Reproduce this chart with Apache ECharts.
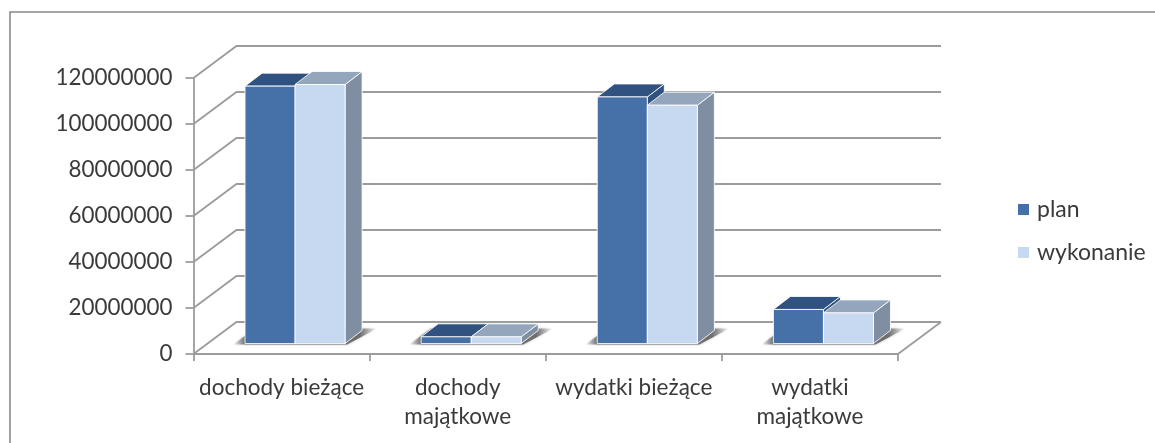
<!DOCTYPE html>
<html>
<head>
<meta charset="utf-8">
<script src="https://cdn.jsdelivr.net/npm/echarts@6/dist/echarts.min.js"></script>
<style>
html,body{margin:0;padding:0;background:#fff;}
#c{width:1155px;height:443px;}
</style>
</head>
<body>
<div id="c"></div>
<script>
const categories = ['dochody bieżące', 'dochody\nmajątkowe', 'wydatki bieżące', 'wydatki\nmajątkowe'];
const plan = [111900000, 2900000, 107200000, 14800000];
const wykonanie = [112600000, 2900000, 103600000, 13300000];
const yTicks = [0, 20000000, 40000000, 60000000, 80000000, 100000000, 120000000];

const font = 'Lato';
const txt = '#3a3a3a';
const lineCol = '#9c9c9c';
// face colours: front, top, side
const planCol = ['#4570a8', '#2f5280', '#2f5280'];
const wykCol = ['#c6d9f1', '#93a6bc', '#7f8ea1'];
// 3d projection in pixels
const wall = [43, -32];
const base = [13.5, -10.5];
const depth = [17, -13];
const barFrac = 50 / 176;

const c = echarts.init(document.getElementById('c'));

function wallItem(params, api){
  const v = api.value(0);
  const cs = params.coordSys;
  const y = api.coord([0, v])[1];
  const l = cs.x, r = cs.x + cs.width;
  const style = {stroke: lineCol, lineWidth: 1.8, fill: null};
  const kids = [{type:'polyline', shape:{points:[[l,y],[l+wall[0],y+wall[1]],[r+wall[0],y+wall[1]]]}, style}];
  if(v===0) kids.push({type:'line', shape:{x1:r,y1:y,x2:r+wall[0],y2:y+wall[1]}, style});
  return {type:'group', children:kids};
}

function shadowItem(params, api){
  const i = api.value(0);
  const p = api.coord([i, 0]);
  const band = api.size([1, 0])[0];
  const w = band * barFrac;
  const yb = p[1] + base[1], h = 15;
  const xl = p[0] - w + base[0] - 12, xr = p[0] + w + base[0] + 2;
  const g = new echarts.graphic.LinearGradient(0, 0, 1, 0, [
    {offset:0, color:'rgba(120,120,120,0)'},
    {offset:0.09, color:'rgba(105,105,105,0.95)'},
    {offset:0.88, color:'rgba(105,105,105,0.95)'},
    {offset:1, color:'rgba(140,140,140,0)'}
  ]);
  return {type:'polygon', silent:true,
    shape:{points:[[xl,yb+1],[xr,yb+1],[xr+30,yb-h],[xl+22,yb-h]]},
    style:{fill:g, shadowBlur:3, shadowColor:'rgba(120,120,120,0.5)'}};
}

function barItem(cols, slot){
  return function(params, api){
    const i = api.value(0), v = api.value(1);
    const p0 = api.coord([i, 0]), p1 = api.coord([i, v]);
    const band = api.size([1, 0])[0];
    const w = band * barFrac;
    const x = p0[0] - w + slot * w + base[0];
    const yb = p0[1] + base[1], yt = p1[1] + base[1];
    const dx = depth[0], dy = depth[1];
    const st = f => ({fill:f, stroke:'rgba(255,255,255,0.85)', lineWidth:1});
    return {type:'group', children:[
      {type:'polygon', shape:{points:[[x+w,yb],[x+w+dx,yb+dy],[x+w+dx,yt+dy],[x+w,yt]]}, style:st(cols[2])},
      {type:'polygon', shape:{points:[[x,yt],[x+w,yt],[x+w+dx,yt+dy],[x+dx,yt+dy]]}, style:st(cols[1])},
      {type:'rect', shape:{x:x, y:yt, width:w, height:yb-yt}, style:st(cols[0])}
    ]};
  };
}

c.setOption({
  animation:false,
  backgroundColor:'#fff',
  graphic:[{type:'rect', z:-1, shape:{x:10,y:12,width:1300,height:600}, style:{fill:null, stroke:'#8a8a8a', lineWidth:1.6}}],
  grid:{left:193.5, right:257, top:78, bottom:89},
  legend:{
    data:['plan','wykonanie'], orient:'vertical', left:1018, top:198, padding:0,
    icon:'rect', itemWidth:11, itemHeight:11, itemGap:20,
    textStyle:{fontFamily:font, fontSize:23, color:txt, padding:[0,0,0,3]}
  },
  xAxis:{
    type:'category', data:categories,
    axisLine:{lineStyle:{color:lineCol, width:1.8}},
    axisTick:{show:true, length:7, lineStyle:{color:lineCol, width:1.8}},
    axisLabel:{fontFamily:font, fontSize:22.5, color:txt, margin:19, lineHeight:29, interval:0}
  },
  yAxis:{
    type:'value', min:0, max:120000000, interval:20000000,
    axisLine:{show:true, lineStyle:{color:lineCol, width:1.8}},
    axisTick:{show:true, length:8, lineStyle:{color:lineCol, width:1.8}},
    axisLabel:{fontFamily:font, fontSize:22.4, color:txt, margin:21, formatter:v=>String(v)},
    splitLine:{show:false}
  },
  series:[
    {type:'custom', name:'walls', silent:true, z:1, renderItem:wallItem, data:yTicks.map(v=>[v]), encode:{y:0}},
    {type:'custom', name:'shadow', silent:true, z:2, renderItem:shadowItem, data:categories.map((n,i)=>[i,0]), encode:{x:0,y:1}},
    {type:'custom', name:'plan', z:3, renderItem:barItem(planCol,0), itemStyle:{color:planCol[0]}, data:plan.map((v,i)=>[i,v]), encode:{x:0,y:1}},
    {type:'custom', name:'wykonanie', z:4, renderItem:barItem(wykCol,1), itemStyle:{color:wykCol[0]}, data:wykonanie.map((v,i)=>[i,v]), encode:{x:0,y:1}}
  ]
});
</script>
</body>
</html>
